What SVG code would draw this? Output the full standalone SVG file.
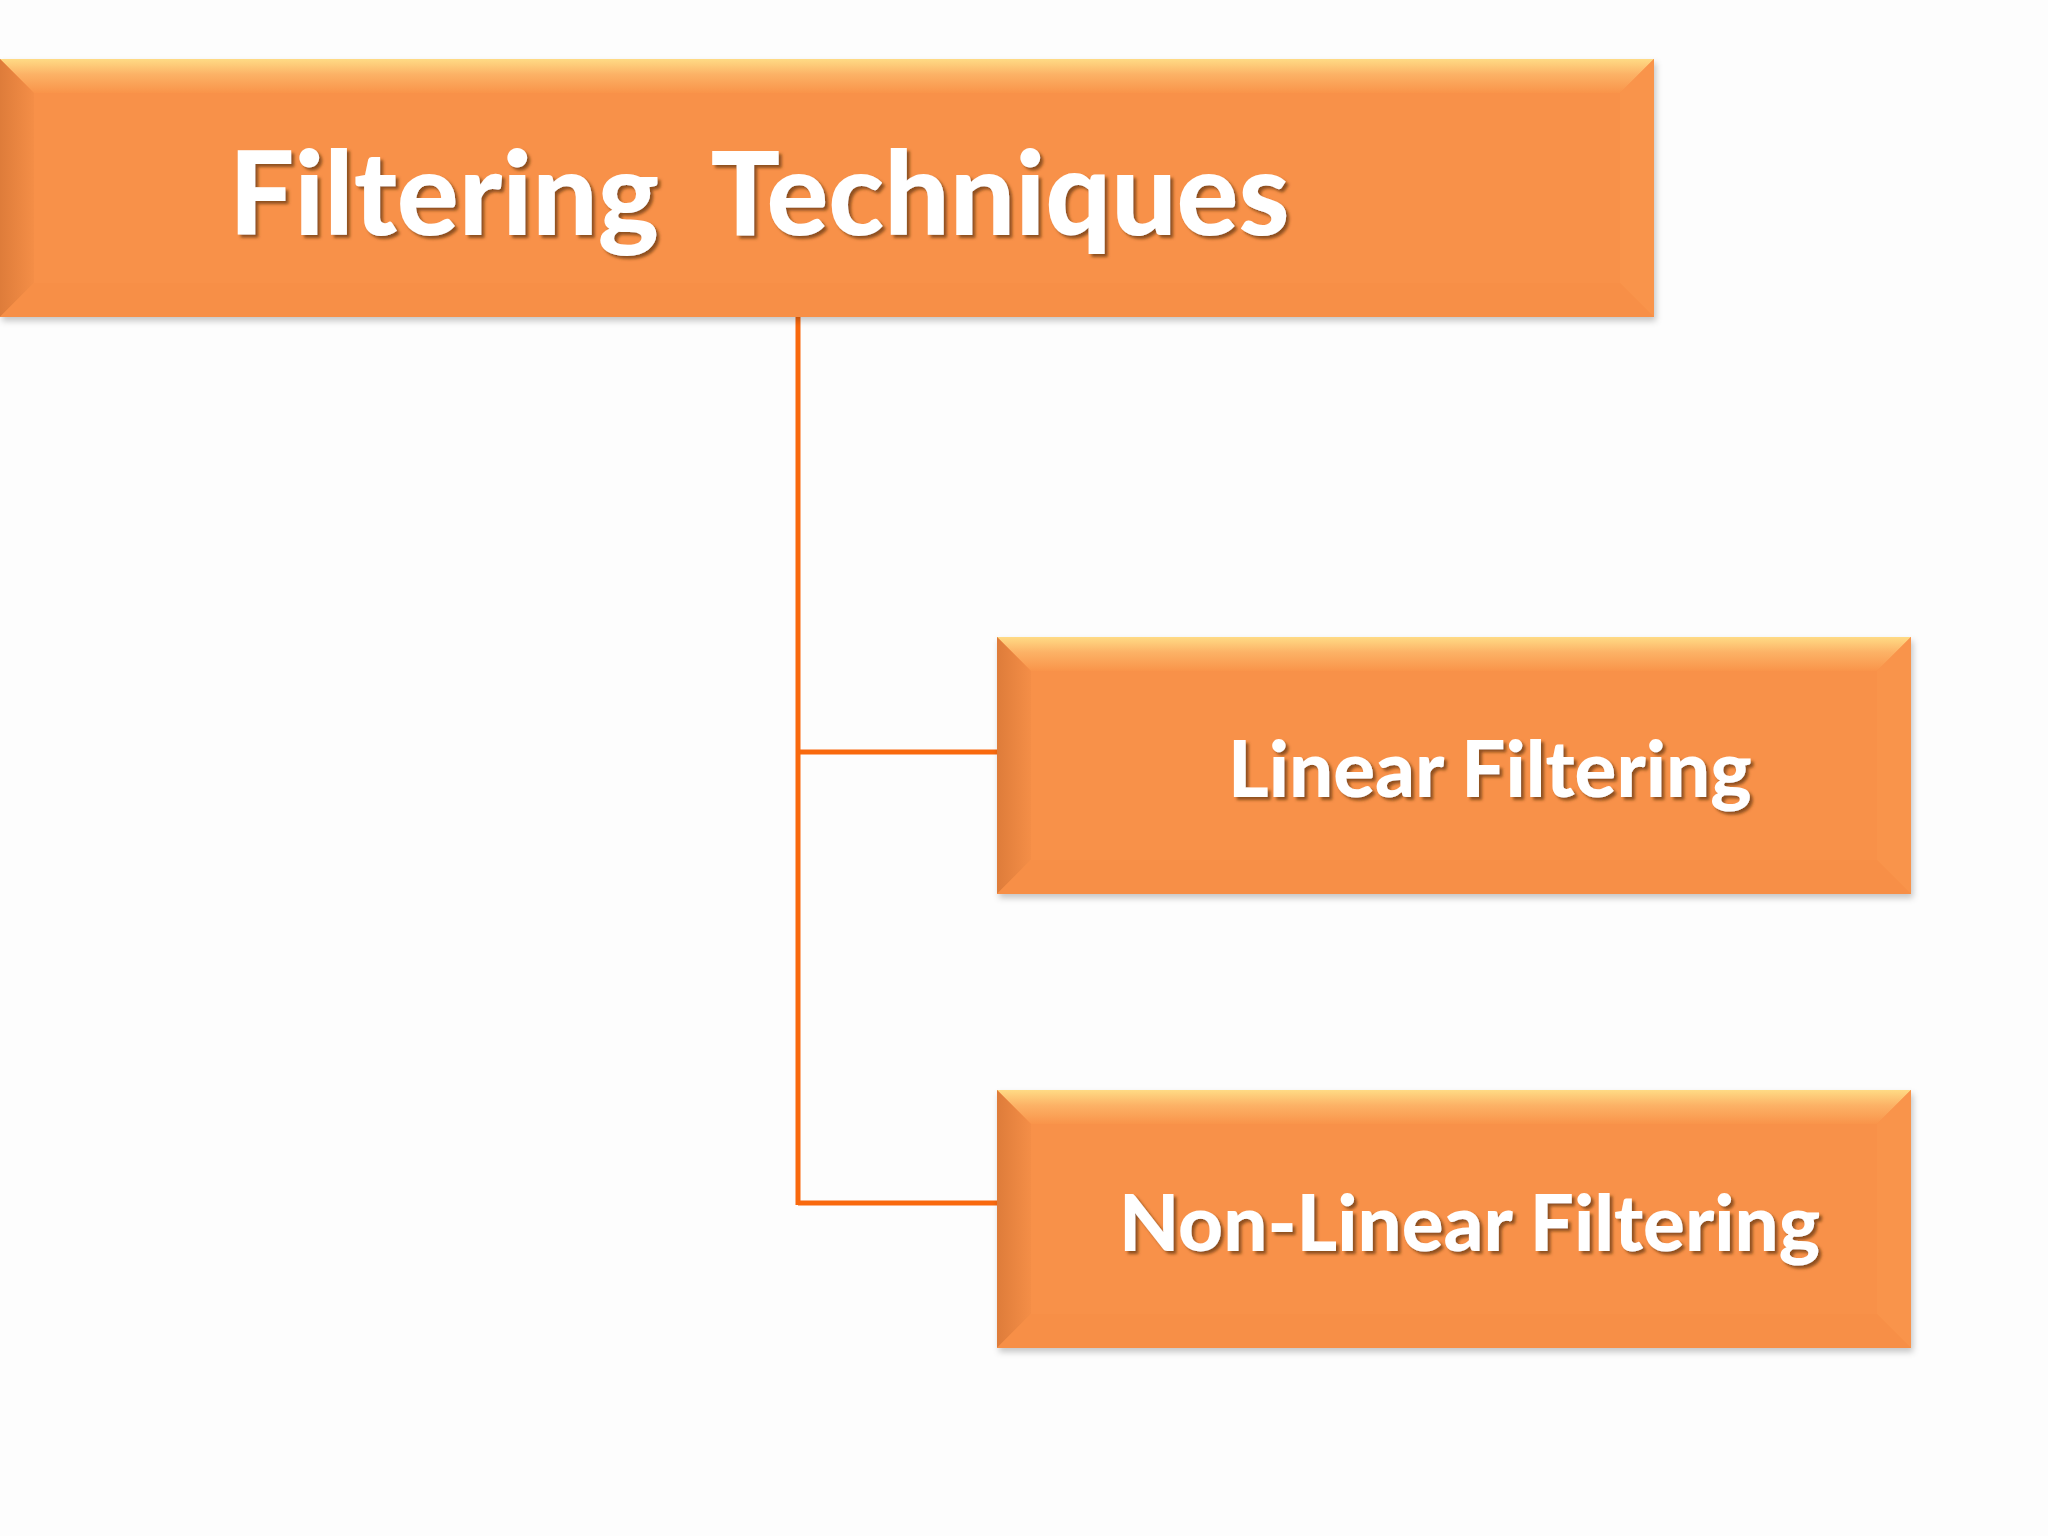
<svg xmlns="http://www.w3.org/2000/svg" width="2048" height="1536" viewBox="0 0 2048 1536">
<defs>
<linearGradient id="gTop" x1="0" y1="0" x2="0" y2="1">
<stop offset="0" stop-color="#FFDB85"/>
<stop offset="0.45" stop-color="#FCB266"/>
<stop offset="1" stop-color="#F9944A"/>
</linearGradient>
<linearGradient id="gLeft" x1="0" y1="0" x2="1" y2="0">
<stop offset="0" stop-color="#DE7C3A"/>
<stop offset="1" stop-color="#F48E47"/>
</linearGradient>
<filter id="boxShadow" x="-5%" y="-10%" width="110%" height="125%">
<feDropShadow dx="2" dy="4" stdDeviation="3" flood-color="#000" flood-opacity="0.22"/>
</filter>
<filter id="textShadow" x="-5%" y="-20%" width="110%" height="140%">
<feDropShadow dx="3" dy="3" stdDeviation="1.5" flood-color="#6B3A12" flood-opacity="0.75"/>
</filter>
</defs>
<style>
.face{fill:#F8914A;}
.top{fill:url(#gTop);}
.left{fill:url(#gLeft);}
.right{fill:#F9944B;}
.bottom{fill:#F78F47;}
.lbl{font-family:Lato,"Open Sans","Liberation Sans",sans-serif;font-weight:900;fill:#FFFFFF;filter:url(#textShadow);white-space:pre;}
.conn{stroke:#F9690E;stroke-width:5;fill:none;}
</style>
<rect x="0" y="0" width="2048" height="1536" fill="#FDFDFD"/>

<g id="connectors">
<line class="conn" x1="798" y1="316" x2="798" y2="1205"/>
<line class="conn" x1="798" y1="752" x2="1006" y2="752"/>
<line class="conn" x1="798" y1="1203" x2="1006" y2="1203"/>
</g>

<g id="node-filtering-techniques">
<g filter="url(#boxShadow)">
<rect class="face" x="0" y="59" width="1654" height="258"/>
</g>
<polygon class="top" points="0,59 1654,59 1620,93 34,93"/>
<polygon class="left" points="0,59 34,93 34,283 0,317"/>
<polygon class="right" points="1654,59 1654,317 1620,283 1620,93"/>
<polygon class="bottom" points="0,317 1654,317 1620,283 34,283"/>
<text class="lbl" x="229" y="235" font-size="115.5" xml:space="preserve">Filtering  Techniques</text>
</g>

<g id="node-linear-filtering">
<g filter="url(#boxShadow)">
<rect class="face" x="997" y="637" width="914" height="257"/>
</g>
<polygon class="top" points="997,637 1911,637 1877,671 1031,671"/>
<polygon class="left" points="997,637 1031,671 1031,860 997,894"/>
<polygon class="right" points="1911,637 1911,894 1877,860 1877,671"/>
<polygon class="bottom" points="997,894 1911,894 1877,860 1031,860"/>
<text class="lbl" x="1228" y="797" font-size="78">Linear Filtering</text>
</g>

<g id="node-non-linear-filtering">
<g filter="url(#boxShadow)">
<rect class="face" x="997" y="1090" width="914" height="258"/>
</g>
<polygon class="top" points="997,1090 1911,1090 1877,1124 1031,1124"/>
<polygon class="left" points="997,1090 1031,1124 1031,1314 997,1348"/>
<polygon class="right" points="1911,1090 1911,1348 1877,1314 1877,1124"/>
<polygon class="bottom" points="997,1348 1911,1348 1877,1314 1031,1314"/>
<text class="lbl" x="1119" y="1251" font-size="78">Non-Linear Filtering</text>
</g>
</svg>
